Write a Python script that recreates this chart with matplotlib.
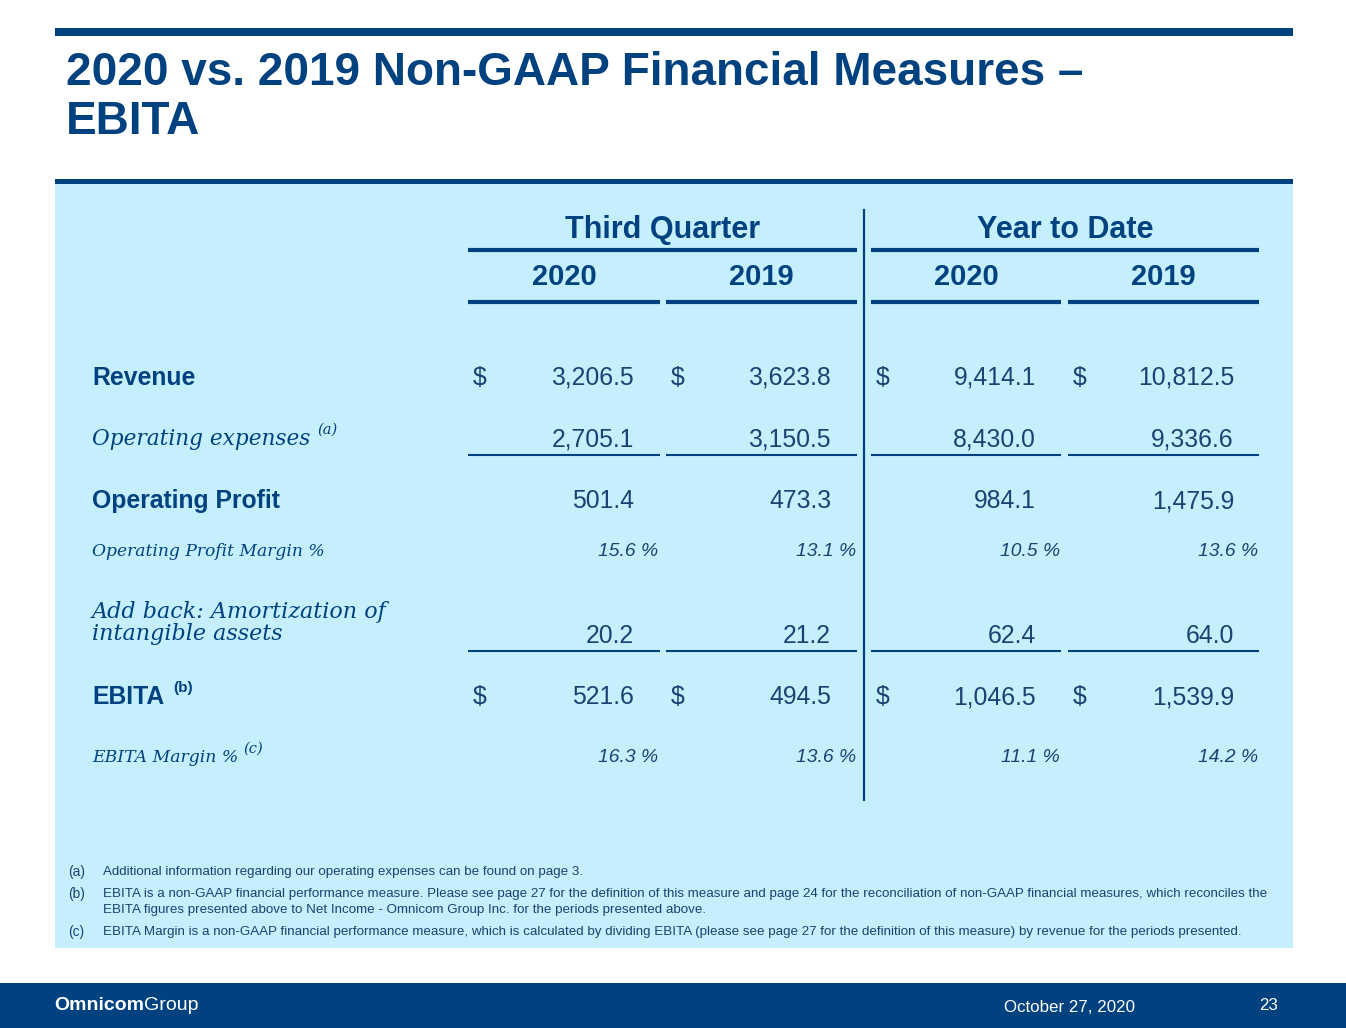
import matplotlib
matplotlib.use("Agg")
import matplotlib.pyplot as plt
from matplotlib.patches import Rectangle

# ---------------- data ----------------
title_lines = ["2020 vs. 2019 Non-GAAP Financial Measures \u2013", "EBITA"]
group_headers = ["Third Quarter", "Year to Date"]
year_headers = ["2020", "2019", "2020", "2019"]

row_labels = ["Revenue", "Operating expenses", "Operating Profit",
              "Operating Profit Margin %", "Add back: Amortization of\nintangible assets",
              "EBITA", "EBITA Margin %"]
row_sup = ["", "(a)", "", "", "", "(b)", "(c)"]

revenue = ["3,206.5", "3,623.8", "9,414.1", "10,812.5"]
operating_expenses = ["2,705.1", "3,150.5", "8,430.0", "9,336.6"]
operating_profit = ["501.4", "473.3", "984.1", "1,475.9"]
op_margin = ["15.6 %", "13.1 %", "10.5 %", "13.6 %"]
amortization = ["20.2", "21.2", "62.4", "64.0"]
ebita = ["521.6", "494.5", "1,046.5", "1,539.9"]
ebita_margin = ["16.3 %", "13.6 %", "11.1 %", "14.2 %"]

footnotes = [
    ("(a)", "Additional information regarding our operating expenses can be found on page 3."),
    ("(b)", "EBITA is a non-GAAP financial performance measure. Please see page 27 for the definition of this measure and page 24 for the reconciliation of non-GAAP financial measures, which reconciles the\nEBITA figures presented above to Net Income - Omnicom Group Inc. for the periods presented above."),
    ("(c)", "EBITA Margin is a non-GAAP financial performance measure, which is calculated by dividing EBITA (please see page 27 for the definition of this measure) by revenue for the periods presented."),
]
footer_left_bold = "Omnicom"
footer_left_reg = "Group"
footer_date = "October 27, 2020"
footer_page = "23"

# ---------------- style ----------------
BLUE = "#00427F"
NUM = "#1A4272"
BG = "#C5EFFD"
SANS = ["Liberation Sans", "DejaVu Sans"]
SERIF = ["DejaVu Serif"]

W, H = 1346, 1028
fig = plt.figure(figsize=(W / 100, H / 100), dpi=100)
ax = fig.add_axes([0, 0, 1, 1])
ax.set_xlim(0, W)
ax.set_ylim(H, 0)
ax.axis("off")

def hline(x0, x1, y, lw):
    ax.plot([x0, x1], [y, y], color=BLUE, lw=lw, solid_capstyle="butt")

# top bar, box, footer
ax.add_patch(Rectangle((55, 28), 1238, 8, color=BLUE, lw=0))
ax.add_patch(Rectangle((55, 184), 1238, 764, color=BG, lw=0))
ax.add_patch(Rectangle((55, 179), 1238, 5, color=BLUE, lw=0))
ax.add_patch(Rectangle((0, 983), W, 45, color=BLUE, lw=0))

# title
ax.text(66, 73, title_lines[0], fontsize=33, fontweight="bold", color=BLUE,
        family=SANS, va="center", ha="left")
ax.text(66, 122, title_lines[1], fontsize=33, fontweight="bold", color=BLUE,
        family=SANS, va="center", ha="left")

# columns
col_left = [468, 666, 871, 1068]
col_right = [660, 857, 1061, 1259]
dollar_x = [480, 678, 883, 1080]
val_right = [634, 831, 1036, 1234]
pct_right = [658, 856, 1060, 1258]

# group headers
for gi, name in enumerate(group_headers):
    x0 = col_left[2 * gi]
    x1 = col_right[2 * gi + 1]
    ax.text((x0 + x1) / 2, 230, name, fontsize=22, fontweight="bold", color=BLUE,
            family=SANS, ha="center", va="center")
    hline(x0, x1, 250, 3)
for ci, yr in enumerate(year_headers):
    ax.text((col_left[ci] + col_right[ci]) / 2, 277, yr, fontsize=21, fontweight="bold",
            color=BLUE, family=SANS, ha="center", va="center")
    hline(col_left[ci], col_right[ci], 302, 3)

# vertical divider
ax.plot([864, 864], [210, 800], color=BLUE, lw=1.6)

# row labels
label_y = [378, 439, 501, 552, 623, 697, 757]
label_style = [
    dict(fontsize=17.8, fontweight="bold", family=SANS, style="normal"),
    dict(fontsize=15.6, fontweight="normal", family=SERIF, style="italic"),
    dict(fontsize=17.8, fontweight="bold", family=SANS, style="normal"),
    dict(fontsize=12.3, fontweight="normal", family=SERIF, style="italic"),
    dict(fontsize=16.0, fontweight="normal", family=SERIF, style="italic"),
    dict(fontsize=17.8, fontweight="bold", family=SANS, style="normal"),
    dict(fontsize=12.4, fontweight="normal", family=SERIF, style="italic"),
]
sup_x = [0, 317, 0, 0, 0, 173, 243]
sup_y = [0, 430, 0, 0, 0, 688, 749]
for i, lab in enumerate(row_labels):
    st = label_style[i]
    ax.text(92, label_y[i], lab, color=BLUE, ha="left", va="center",
            linespacing=0.95, **st)
    if row_sup[i]:
        if st["family"] == SERIF:
            ax.text(sup_x[i], sup_y[i], row_sup[i], color=BLUE, fontsize=10.5,
                    family=SERIF, style="italic", ha="left", va="center")
        else:
            ax.text(sup_x[i], sup_y[i], row_sup[i], color=BLUE, fontsize=11,
                    family=SANS, fontweight="bold", ha="left", va="center")

# values
def value_row(vals, y, dollar=False, size=17.8):
    for ci, v in enumerate(vals):
        ax.text(val_right[ci], y, v, fontsize=size, color=NUM, family=SANS,
                ha="right", va="center")
        if dollar:
            ax.text(dollar_x[ci], y, "$", fontsize=size, color=NUM, family=SANS,
                    ha="center", va="center")

def pct_row(vals, y):
    for ci, v in enumerate(vals):
        ax.text(pct_right[ci], y, v, fontsize=13.9, color=NUM, family=SANS,
                style="italic", ha="right", va="center")

value_row(revenue, 378, dollar=True)
value_row(operating_expenses, 439)
for ci in range(4):
    hline(col_left[ci], col_right[ci], 455, 1.5)
value_row(operating_profit, 501)
pct_row(op_margin, 552)
value_row(amortization, 636)
for ci in range(4):
    hline(col_left[ci], col_right[ci], 651, 1.5)
value_row(ebita, 697, dollar=True)
pct_row(ebita_margin, 757)

# footnotes
fy = [872, 894, 932]
for (tag, txt), y in zip(footnotes, fy):
    ax.text(68, y, tag, fontsize=9.8, color=NUM, family=SANS, ha="left", va="center")
    for k, ln in enumerate(txt.split("\n")):
        ax.text(103, y + 16 * k, ln, fontsize=9.6, color=NUM, family=SANS,
                ha="left", va="center")

# footer
t = ax.text(54, 1005, footer_left_bold, fontsize=14, fontweight="bold", color="white",
            family=["Liberation Sans Narrow", "Liberation Sans"], ha="left", va="center")
fig.canvas.draw()
inv = ax.transData.inverted()
bb = t.get_window_extent()
x_end = inv.transform((bb.x1, bb.y0))[0]
ax.text(x_end, 1005, footer_left_reg, fontsize=14, color="white",
        family=["Liberation Sans Narrow", "Liberation Sans"], ha="left", va="center")
ax.text(1070, 1007, footer_date, fontsize=12.2, color="white", family=SANS,
        ha="center", va="center")
ax.text(1269, 1006, footer_page, fontsize=12.2, color="white", family=SANS,
        ha="center", va="center")

fig.savefig("out.png", dpi=100)
